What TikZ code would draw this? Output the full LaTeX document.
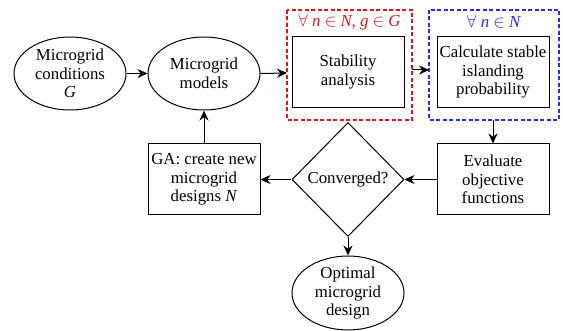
\documentclass[tikz,border=0pt]{standalone}
\usepackage{fontspec}
\setmainfont{Liberation Serif}
\usetikzlibrary{shapes.geometric,arrows.meta}
\definecolor{loopred}{RGB}{225,20,30}
\definecolor{loopblue}{RGB}{40,40,240}
\begin{document}
\begin{tikzpicture}[x=1pt,y=-1pt,
  every node/.style={font=\fontsize{16.8}{18.5}\selectfont, align=center, inner sep=0pt},
  oval/.style={draw, line width=1pt, ellipse, minimum width=112pt, minimum height=73pt},
  stepbox/.style={draw, line width=1pt, rectangle, minimum width=112pt, minimum height=71pt},
  decision/.style={draw, line width=1pt, diamond, minimum width=112pt, minimum height=114pt},
  frame/.style={line width=1.2pt, dash pattern=on 4pt off 2.5pt},
  flow/.style={line width=1pt, -{Stealth[length=10pt,width=9pt]}}]
\useasboundingbox (0,0) rectangle (563,331);

% loop frames
\draw[frame, draw=loopred] (287,10) rectangle (412,120);
\draw[frame, draw=loopblue] (429,10) rectangle (559,120);
\coordinate (redL) at (287,73);
\coordinate (redR) at (412,70);
\coordinate (blueL) at (429,70);
\coordinate (blueB) at (493,120);
\node[text=loopred] (redlab) at (349.5,22) {$\forall$ \textit{n} $\in$ \textit{N}, \textit{g} $\in$ \textit{G}};
\node[text=loopblue] (bluelab) at (494,22) {$\forall$ \textit{n} $\in$ \textit{N}};

% process nodes
\node[oval] (cond) at (70,73.5) {Microgrid\\conditions\\\textit{G}};
\node[oval] (models) at (204,73.5) {Microgrid\\models};
\node[stepbox] (stab) at (348,72) {Stability\\analysis};
\node[stepbox] (calc) at (493,72) {Calculate stable\\islanding\\probability};
\node[stepbox] (eval) at (493,179.5) {Evaluate\\objective\\functions};
\node[decision] (conv) at (348,179.5) {Converged?};
\node[stepbox] (ga) at (204,179.5) {GA: create new\\microgrid\\designs \textit{N}};
\node[oval, minimum height=71pt] (opt) at (348,293) {Optimal\\microgrid\\design};

% connectors
\draw[flow] (cond) -- (models);
\draw[flow] (models.east) -- (redL);
\draw[flow] (redR) -- (blueL);
\draw[flow] (blueB) -- (eval.north);
\draw[flow] (eval) -- (conv);
\draw[flow] (conv) -- (ga);
\draw[flow] (ga) -- (models);
\draw[flow] (conv) -- (opt);
\end{tikzpicture}
\end{document}
